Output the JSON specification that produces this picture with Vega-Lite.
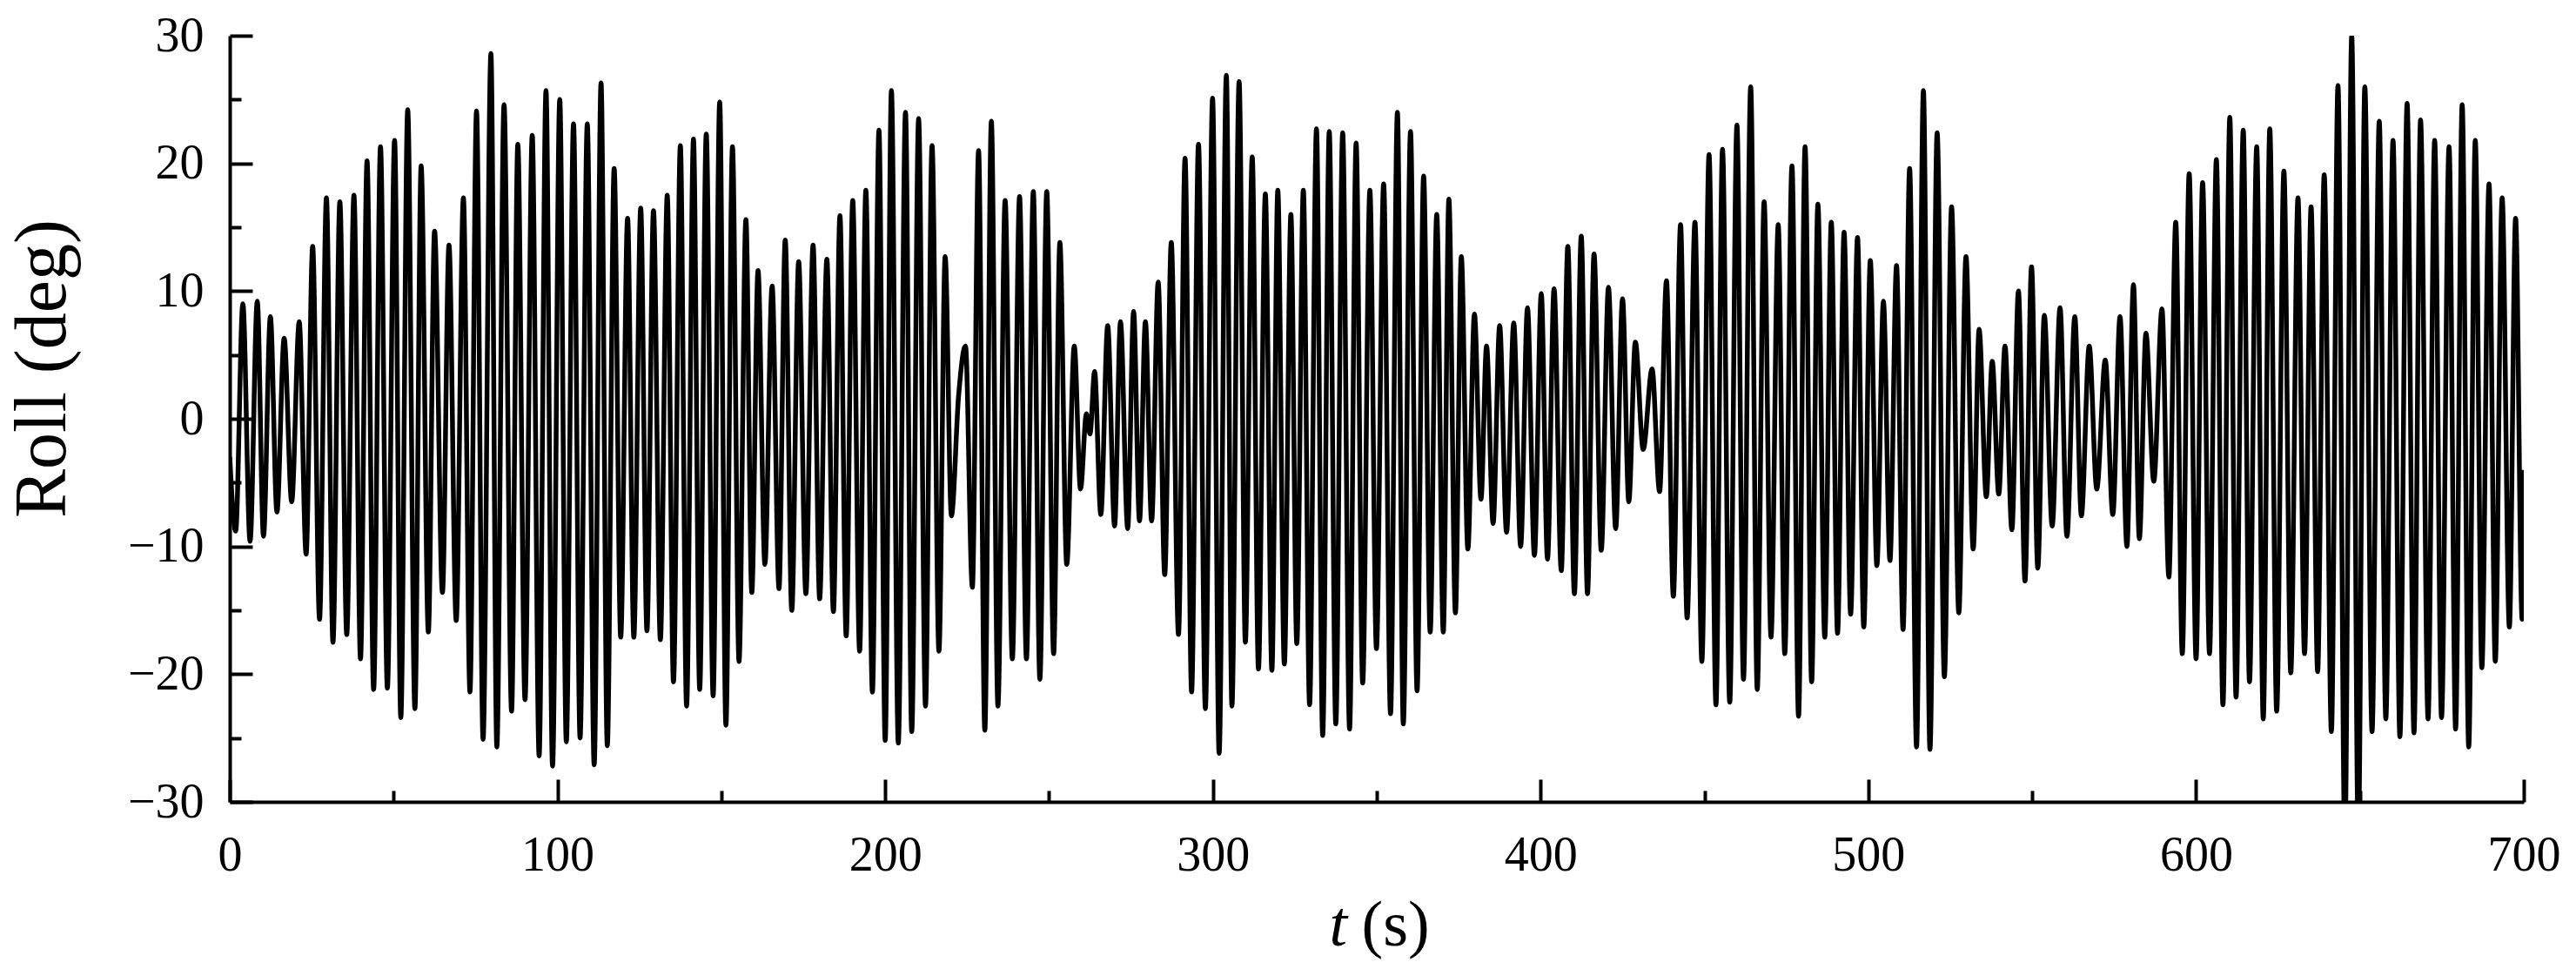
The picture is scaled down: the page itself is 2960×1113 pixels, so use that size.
{
"$schema": "https://vega.github.io/schema/vega-lite/v6.json",
"autosize": {"type": "none"},
"width": 2636,
"height": 880,
"padding": {"left": 264, "top": 41, "right": 60, "bottom": 192},
"background": "white",
"config": {
  "view": {"stroke": null},
  "axis": {"labelFont": "Liberation Serif", "titleFont": "Liberation Serif", "domainColor": "black", "tickColor": "black", "labelColor": "black", "titleColor": "black", "grid": false, "titleFontWeight": "normal", "labelFlush": false, "labelOverlap": false, "domainWidth": 4, "tickWidth": 4}
},
"data": {"values": [
{"t":0,"v":-3},{"t":1.8,"v":-8.8},{"t":4.0,"v":9.0},{"t":6.2,"v":-9.6},{"t":8.4,"v":9.2},{"t":10.3,"v":-9.2},{"t":12.4,"v":8.0},{"t":14.4,"v":-7.3},{"t":16.6,"v":6.3},{"t":18.9,"v":-6.5},
{"t":21.2,"v":7.6},{"t":23.3,"v":-10.6},{"t":25.3,"v":13.5},{"t":27.4,"v":-15.7},{"t":29.5,"v":17.3},{"t":31.5,"v":-17.5},{"t":33.6,"v":17.0},{"t":35.7,"v":-16.9},{"t":37.9,"v":17.5},{"t":39.9,"v":-18.8},
{"t":41.9,"v":20.2},{"t":43.9,"v":-21.2},{"t":46.0,"v":21.3},{"t":48.1,"v":-21.1},{"t":50.3,"v":21.8},{"t":52.2,"v":-23.4},{"t":54.3,"v":24.2},{"t":56.5,"v":-22.7},{"t":58.4,"v":19.8},{"t":60.6,"v":-16.7},
{"t":62.5,"v":14.7},{"t":64.9,"v":-13.6},{"t":66.9,"v":13.6},{"t":69.1,"v":-15.8},{"t":71.3,"v":17.3},{"t":73.3,"v":-21.4},{"t":75.3,"v":24.1},{"t":77.3,"v":-25.1},{"t":79.7,"v":28.6},{"t":81.5,"v":-25.7},
{"t":83.7,"v":24.6},{"t":86.0,"v":-22.9},{"t":87.9,"v":21.5},{"t":90.1,"v":-22.0},{"t":92.3,"v":22.2},{"t":94.4,"v":-26.4},{"t":96.5,"v":25.7},{"t":98.5,"v":-27.2},{"t":100.7,"v":25.0},{"t":102.7,"v":-25.3},
{"t":104.9,"v":23.1},{"t":106.9,"v":-25.0},{"t":109.1,"v":23.1},{"t":111.2,"v":-27.1},{"t":113.3,"v":26.3},{"t":115.2,"v":-25.6},{"t":117.3,"v":19.6},{"t":119.3,"v":-17.1},{"t":121.4,"v":15.7},{"t":123.3,"v":-17.1},
{"t":125.4,"v":16.5},{"t":127.3,"v":-16.6},{"t":129.3,"v":16.3},{"t":131.4,"v":-17.3},{"t":133.5,"v":17.5},{"t":135.4,"v":-20.6},{"t":137.5,"v":21.4},{"t":139.4,"v":-22.5},{"t":141.5,"v":21.9},{"t":143.4,"v":-21.2},
{"t":145.4,"v":22.3},{"t":147.5,"v":-21.7},{"t":149.5,"v":24.8},{"t":151.4,"v":-24.0},{"t":153.4,"v":21.3},{"t":155.4,"v":-19.0},{"t":157.5,"v":15.6},{"t":159.3,"v":-13.6},{"t":161.2,"v":11.6},{"t":163.3,"v":-11.4},
{"t":165.5,"v":10.4},{"t":167.6,"v":-13.3},{"t":169.5,"v":14.0},{"t":171.5,"v":-15.0},{"t":173.6,"v":12.3},{"t":175.8,"v":-13.7},{"t":178.0,"v":13.6},{"t":180.0,"v":-14.1},{"t":182.2,"v":12.5},{"t":184.2,"v":-15.1},
{"t":186.2,"v":15.9},{"t":188.1,"v":-17.0},{"t":190.1,"v":17.1},{"t":192.2,"v":-18.2},{"t":194.1,"v":17.9},{"t":196.1,"v":-21.4},{"t":198.1,"v":22.6},{"t":200.0,"v":-25.2},{"t":201.9,"v":25.7},{"t":204.0,"v":-25.4},
{"t":206.2,"v":24.0},{"t":208.1,"v":-24.5},{"t":210.2,"v":23.5},{"t":212.3,"v":-22.5},{"t":214.3,"v":21.4},{"t":216.4,"v":-18.2},{"t":218.3,"v":12.7},{"t":220.2,"v":-7.6},{"t":222.4,"v":1.8},{"t":224.5,"v":5.7},
{"t":226.6,"v":-13.2},{"t":228.5,"v":21.0},{"t":230.4,"v":-24.4},{"t":232.4,"v":23.3},{"t":234.4,"v":-22.5},{"t":236.6,"v":17.1},{"t":238.8,"v":-18.8},{"t":241.0,"v":17.4},{"t":243.1,"v":-18.8},{"t":245.2,"v":17.8},
{"t":247.2,"v":-20.4},{"t":249.3,"v":17.8},{"t":251.4,"v":-18.4},{"t":253.3,"v":13.8},{"t":255.4,"v":-11.4},{"t":257.7,"v":5.7},{"t":259.6,"v":-5.5},{"t":261.4,"v":0.4},{"t":262.5,"v":-1.2},{"t":263.9,"v":3.7},
{"t":265.8,"v":-7.5},{"t":267.9,"v":7.3},{"t":270.0,"v":-8.4},{"t":271.8,"v":7.6},{"t":274.0,"v":-8.6},{"t":275.8,"v":8.4},{"t":277.6,"v":-8.0},{"t":279.4,"v":7.6},{"t":281.3,"v":-8.0},{"t":283.3,"v":10.7},
{"t":285.3,"v":-12.2},{"t":287.3,"v":13.8},{"t":289.5,"v":-16.9},{"t":291.5,"v":20.4},{"t":293.5,"v":-21.4},{"t":295.6,"v":21.5},{"t":297.7,"v":-22.7},{"t":299.9,"v":25.1},{"t":301.9,"v":-26.2},{"t":304.1,"v":26.9},
{"t":305.8,"v":-22.5},{"t":308.0,"v":26.4},{"t":309.9,"v":-17.5},{"t":312.0,"v":20.5},{"t":313.9,"v":-19.6},{"t":316.0,"v":17.6},{"t":318.0,"v":-19.7},{"t":319.8,"v":17.9},{"t":321.8,"v":-19.2},{"t":323.8,"v":16.0},
{"t":325.6,"v":-17.6},{"t":327.6,"v":17.9},{"t":329.5,"v":-22.4},{"t":331.6,"v":22.7},{"t":333.5,"v":-24.8},{"t":335.5,"v":22.5},{"t":337.5,"v":-23.9},{"t":339.6,"v":22.4},{"t":341.7,"v":-24.3},{"t":343.7,"v":21.6},
{"t":345.7,"v":-20.7},{"t":347.9,"v":17.9},{"t":349.9,"v":-18.0},{"t":352.1,"v":18.4},{"t":354.2,"v":-23.1},{"t":356.3,"v":24.0},{"t":358.1,"v":-23.9},{"t":360.3,"v":22.5},{"t":362.3,"v":-21.3},{"t":364.3,"v":19.0},
{"t":366.3,"v":-16.7},{"t":368.3,"v":16.0},{"t":370.3,"v":-16.7},{"t":372.0,"v":17.2},{"t":374.0,"v":-15.2},{"t":375.8,"v":12.7},{"t":377.8,"v":-10.2},{"t":379.8,"v":8.2},{"t":381.8,"v":-6.3},{"t":383.5,"v":5.7},
{"t":385.5,"v":-8.2},{"t":387.5,"v":7.3},{"t":389.6,"v":-8.9},{"t":391.8,"v":7.5},{"t":393.9,"v":-10.0},{"t":396.0,"v":8.7},{"t":398.1,"v":-10.7},{"t":400.2,"v":9.8},{"t":402.1,"v":-11.0},{"t":404.1,"v":10.2},
{"t":406.3,"v":-11.9},{"t":408.3,"v":13.5},{"t":410.3,"v":-13.7},{"t":412.4,"v":14.3},{"t":414.3,"v":-13.7},{"t":416.3,"v":12.9},{"t":418.5,"v":-10.3},{"t":420.7,"v":10.3},{"t":422.9,"v":-8.6},{"t":425.0,"v":9.4},
{"t":426.9,"v":-6.5},{"t":428.9,"v":6.0},{"t":431.3,"v":-2.4},{"t":434.0,"v":3.9},{"t":436.3,"v":-5.7},{"t":438.4,"v":10.8},{"t":440.5,"v":-13.9},{"t":442.7,"v":15.2},{"t":444.7,"v":-15.6},{"t":447.1,"v":15.4},
{"t":449.2,"v":-19.0},{"t":451.4,"v":20.7},{"t":453.5,"v":-22.4},{"t":455.5,"v":21.1},{"t":457.7,"v":-22.2},{"t":459.9,"v":23.0},{"t":461.9,"v":-20.4},{"t":464.1,"v":26.0},{"t":466.1,"v":-21.2},{"t":468.2,"v":17.0},
{"t":470.3,"v":-17.1},{"t":472.5,"v":15.2},{"t":474.5,"v":-18.4},{"t":476.7,"v":19.8},{"t":478.7,"v":-23.3},{"t":480.7,"v":21.3},{"t":482.7,"v":-20.6},{"t":484.6,"v":16.8},{"t":486.7,"v":-17.1},{"t":488.7,"v":15.4},
{"t":490.6,"v":-16.8},{"t":492.6,"v":14.6},{"t":494.6,"v":-15.3},{"t":496.7,"v":14.2},{"t":498.6,"v":-16.3},{"t":500.6,"v":12.4},{"t":502.6,"v":-11.5},{"t":504.6,"v":9.2},{"t":506.6,"v":-11.1},{"t":508.6,"v":12.0},
{"t":510.6,"v":-16.5},{"t":512.6,"v":19.6},{"t":514.7,"v":-25.7},{"t":516.8,"v":25.7},{"t":518.8,"v":-25.9},{"t":521.0,"v":22.4},{"t":523.2,"v":-20.2},{"t":525.4,"v":16.6},{"t":527.6,"v":-15.2},{"t":529.8,"v":12.7},
{"t":532.0,"v":-10.2},{"t":533.8,"v":7.0},{"t":536.0,"v":-6.1},{"t":537.8,"v":4.5},{"t":539.8,"v":-5.9},{"t":541.7,"v":5.7},{"t":543.8,"v":-8.7},{"t":545.8,"v":10.0},{"t":547.8,"v":-12.7},{"t":549.8,"v":11.9},
{"t":551.7,"v":-11.7},{"t":553.7,"v":8.1},{"t":556.1,"v":-8.4},{"t":558.5,"v":8.7},{"t":560.6,"v":-9.2},{"t":563.0,"v":8.0},{"t":565.0,"v":-7.6},{"t":567.4,"v":5.7},{"t":569.7,"v":-5.5},{"t":572.3,"v":4.6},
{"t":574.6,"v":-7.5},{"t":576.8,"v":8.0},{"t":578.9,"v":-10.0},{"t":580.9,"v":10.5},{"t":582.7,"v":-9.4},{"t":584.7,"v":6.7},{"t":587.1,"v":-4.9},{"t":589.6,"v":8.6},{"t":591.7,"v":-12.4},{"t":593.8,"v":15.4},
{"t":595.8,"v":-18.4},{"t":597.9,"v":19.2},{"t":600.0,"v":-18.8},{"t":602.0,"v":18.5},{"t":604.1,"v":-18.4},{"t":606.2,"v":20.3},{"t":608.2,"v":-22.4},{"t":610.3,"v":23.6},{"t":612.2,"v":-21.8},{"t":614.4,"v":22.6},
{"t":616.3,"v":-20.6},{"t":618.5,"v":21.3},{"t":620.5,"v":-23.5},{"t":622.5,"v":22.7},{"t":624.6,"v":-22.9},{"t":626.8,"v":19.4},{"t":628.9,"v":-19.9},{"t":631.1,"v":17.3},{"t":633.1,"v":-18.4},{"t":635.1,"v":16.6},
{"t":637.1,"v":-19.8},{"t":639.1,"v":19.1},{"t":641.3,"v":-24.5},{"t":643.3,"v":26.1},{"t":645.4,"v":-33},{"t":647.5,"v":30.0},{"t":649.5,"v":-33},{"t":651.5,"v":26.0},{"t":653.7,"v":-24.5},{"t":655.9,"v":23.3},
{"t":657.9,"v":-23.5},{"t":660.1,"v":21.8},{"t":662.2,"v":-24.9},{"t":664.4,"v":24.7},{"t":666.5,"v":-24.6},{"t":668.5,"v":23.4},{"t":670.8,"v":-23.5},{"t":672.8,"v":21.8},{"t":674.9,"v":-23.4},{"t":677.2,"v":21.3},
{"t":679.2,"v":-24.3},{"t":681.2,"v":24.6},{"t":683.2,"v":-25.7},{"t":685.2,"v":21.8},{"t":687.2,"v":-19.5},{"t":689.4,"v":18.4},{"t":691.3,"v":-19.0},{"t":693.4,"v":17.3},{"t":695.6,"v":-16.3},{"t":697.5,"v":15.7},
{"t":699.5,"v":-15.7},{"t":700.0,"v":-4}
]},
"layer": [
  {
    "mark": {"type": "line", "color": "black", "strokeWidth": 5.5, "interpolate": "monotone", "clip": true},
    "encoding": {
      "x": {"field": "t", "type": "quantitative", "scale": {"domain": [0, 700], "nice": false},
        "axis": {"orient": "bottom", "values": [0, 100, 200, 300, 400, 500, 600, 700], "tickSize": -26, "labelFontSize": 56, "labelPadding": 60, "labelBaseline": "top",
          "title": "t", "titleFontStyle": "italic", "titleFontSize": 74, "titleAlign": "left", "titleAnchor": null, "titleX": 1263, "titleY": 164, "titleBaseline": "alphabetic"}},
      "y": {"field": "v", "type": "quantitative", "scale": {"domain": [-30, 30], "nice": false},
        "axis": {"orient": "left", "values": [-30, -20, -10, 0, 10, 20, 30], "tickSize": -26, "labelFontSize": 56, "labelPadding": 56, "labelAlign": "right", "labelBaseline": "middle",
          "title": "Roll (deg)", "titleFontSize": 84, "titleAngle": 270, "titleAlign": "center", "titleAnchor": null, "titleX": -190, "titleY": 382, "titleBaseline": "alphabetic"}}
    }
  },
  {
    "mark": {"type": "point", "opacity": 0},
    "encoding": {
      "x": {"field": "t", "type": "quantitative",
        "axis": {"orient": "bottom", "values": [50, 150, 250, 350, 450, 550, 650], "tickSize": -13, "labels": false, "domain": false,
          "title": "(s)", "titleFontSize": 74, "titleAlign": "left", "titleAnchor": null, "titleX": 1300, "titleY": 164, "titleBaseline": "alphabetic"}},
      "y": {"field": "v", "type": "quantitative",
        "axis": {"orient": "left", "values": [-25, -15, -5, 5, 15, 25], "tickSize": -13, "labels": false, "domain": false, "title": null}}
    }
  }
],
"resolve": {"axis": {"x": "independent", "y": "independent"}}
}
